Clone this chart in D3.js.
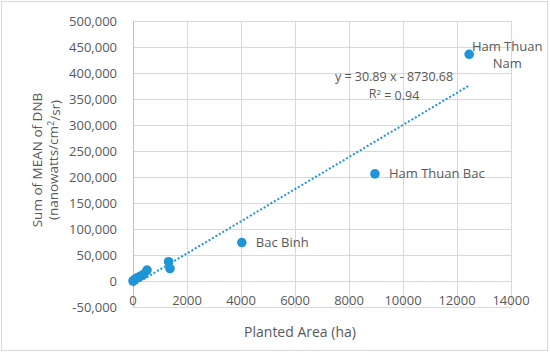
<!DOCTYPE html>
<html>
<head>
<meta charset="utf-8">
<script src="https://cdn.jsdelivr.net/npm/d3@7"></script>
<style>
  body { margin: 0; background: #fff; }
  text { font-family: "Open Sans", sans-serif; fill: #595959; }
</style>
</head>
<body>
<script>
// planted area (ha) vs sum of mean DNB, one point per district
const area = [0, 60, 150, 260, 400, 520, 1320, 1370, 4030, 8960, 12450]
const dnb = [0, 3000, 6000, 9000, 13000, 21000, 37000, 24000, 74000, 206000, 436000]
const pointLabels = ["", "", "", "", "", "", "", "", "Bac Binh", "Ham Thuan Bac", "Ham Thuan\nNam"]

const xTicks = [0, 2000, 4000, 6000, 8000, 10000, 12000, 14000]
const yTicks = [-50000, 0, 50000, 100000, 150000, 200000, 250000, 300000, 350000, 400000, 450000, 500000]

const slope = 30.89
const intercept = -8730.68

const width = 550
const height = 354
const color = "#1f95d8"
const grid = "#d9d9d9"

const x = d3.scaleLinear([0, 14000], [133, 511])
const y = d3.scaleLinear([-50000, 500000], [307, 21])

const svg = d3.select("body").append("svg")
    .attr("width", width)
    .attr("height", height)

// chart frame
svg.append("rect")
    .attr("x", 1.5).attr("y", 1.5)
    .attr("width", 546).attr("height", 349)
    .attr("fill", "none")
    .attr("stroke", grid)

// gridlines
svg.append("g")
    .selectAll("line")
    .data(yTicks)
    .join("line")
    .attr("x1", x(0)).attr("x2", x(14000))
    .attr("y1", d => Math.round(y(d)) + 0.5).attr("y2", d => Math.round(y(d)) + 0.5)
    .attr("stroke", grid)

svg.append("g")
    .selectAll("line")
    .data(xTicks)
    .join("line")
    .attr("y1", y(500000)).attr("y2", y(-50000))
    .attr("x1", d => Math.round(x(d)) + 0.5).attr("x2", d => Math.round(x(d)) + 0.5)
    .attr("stroke", d => d === 0 ? "#bfbfbf" : grid)

// tick labels
svg.append("g")
    .selectAll("text")
    .data(yTicks)
    .join("text")
    .attr("x", 117)
    .attr("y", d => y(d))
    .attr("dy", "0.35em")
    .attr("text-anchor", "end")
    .style("font-size", "13px")
    .text(d => d3.format(",")(d).replace("−", "-"))

svg.append("g")
    .selectAll("text")
    .data(xTicks)
    .join("text")
    .attr("x", d => x(d))
    .attr("y", 305)
    .attr("text-anchor", "middle")
    .style("font-size", "13px")
    .text(d => d)

// axis titles
svg.append("text")
    .attr("transform", "translate(42,160) rotate(-90)")
    .attr("text-anchor", "middle")
    .style("font-size", "13.5px")
    .call(t => t.append("tspan").attr("x", 0).attr("dy", 0).text("Sum of MEAN of DNB"))
    .call(t => t.append("tspan").attr("x", 0).attr("dy", "1.2em").text("(nanowatts/cm"))
    .call(t => t.append("tspan").attr("dy", "-0.45em").style("font-size", "9px").text("2"))
    .call(t => t.append("tspan").attr("dy", "0.45em").text("/sr)"))

svg.append("text")
    .attr("x", 300).attr("y", 337)
    .attr("text-anchor", "middle")
    .style("font-size", "14px")
    .text("Planted Area (ha)")

// linear trendline
const xMin = d3.min(area), xMax = d3.max(area)
svg.append("line")
    .attr("x1", x(xMin)).attr("y1", y(slope * xMin + intercept))
    .attr("x2", x(xMax)).attr("y2", y(slope * xMax + intercept))
    .attr("stroke", color)
    .attr("stroke-width", 2)
    .attr("stroke-dasharray", "2,2")

// points
const points = area.map((a, i) => ({ a, v: dnb[i], label: pointLabels[i] }))
svg.append("g")
    .selectAll("circle")
    .data(points)
    .join("circle")
    .attr("cx", d => x(d.a))
    .attr("cy", d => y(d.v))
    .attr("r", 4.8)
    .attr("fill", color)

// data labels
svg.append("g")
    .selectAll("text")
    .data(points.filter(d => d.label && !d.label.includes("\n")))
    .join("text")
    .attr("x", d => x(d.a) + 14)
    .attr("y", d => y(d.v))
    .attr("dy", "0.35em")
    .style("font-size", "13px")
    .text(d => d.label)

const nam = points.find(d => d.label.includes("\n"))
svg.append("text")
    .attr("text-anchor", "middle")
    .style("font-size", "13px")
    .selectAll("tspan")
    .data(nam.label.split("\n"))
    .join("tspan")
    .attr("x", x(nam.a) + 38)
    .attr("y", (d, i) => y(nam.v) - 8 + i * 17)
    .attr("dy", "0.35em")
    .text(d => d)

// equation label
svg.append("text")
    .attr("text-anchor", "middle")
    .style("font-size", "12.5px")
    .call(t => t.append("tspan").attr("x", 394).attr("y", 81).text("y = 30.89 x - 8730.68"))
    .call(t => t.append("tspan").attr("x", 394).attr("y", 98).text("R"))
    .call(t => t.append("tspan").attr("dy", "-0.4em").style("font-size", "8px").text("2"))
    .call(t => t.append("tspan").attr("dy", "0.4em").text(" = 0.94"))
</script>
</body>
</html>
